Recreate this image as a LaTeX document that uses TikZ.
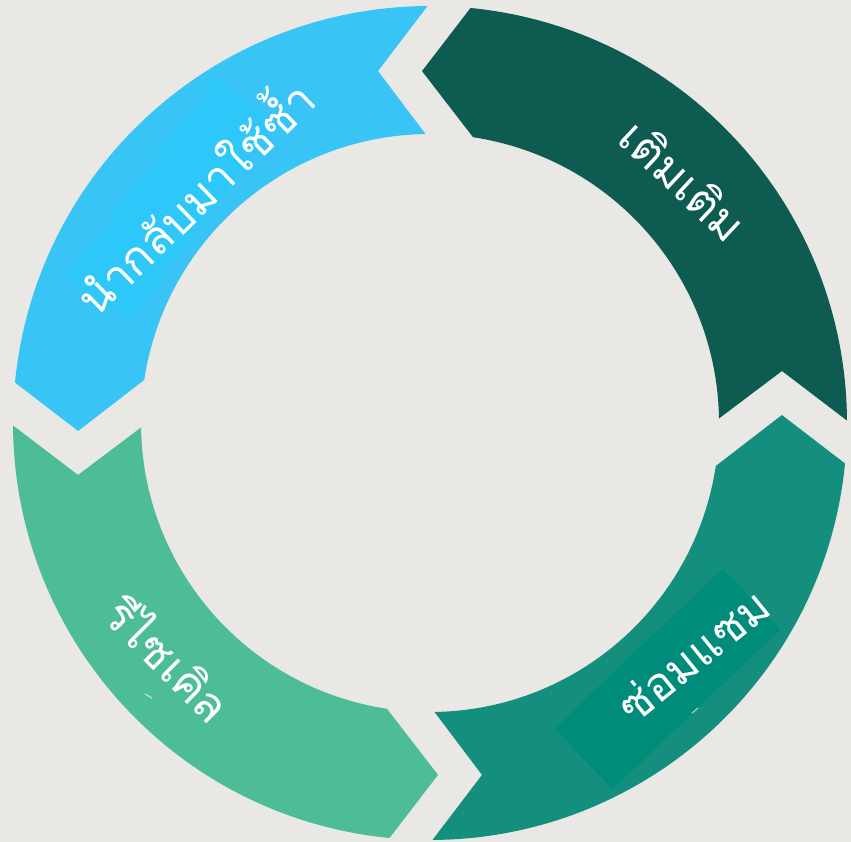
\documentclass[tikz,border=0pt]{standalone}
\usepackage{fontspec}
\newfontfamily\thaifont[Script=Thai]{Loma}
\definecolor{paper}{HTML}{EAE8E4}
\definecolor{reuseblue}{HTML}{38C4F4}
\definecolor{reusebox}{HTML}{2DC8F9}
\definecolor{refilldark}{HTML}{0D5B51}
\definecolor{repairteal}{HTML}{148F7E}
\definecolor{repairbox}{HTML}{008C7B}
\definecolor{recyclegreen}{HTML}{4DBD98}
\tikzset{
  label text/.style={text=white, font=\thaifont\fontsize{46}{52}\selectfont, inner sep=0pt},
  tick mark/.style={draw=white, opacity=.6, line width=1.2pt, line cap=round}
}
% one quarter of the ring: tail notch at #1, arrow head at #1+90
\newcommand\ringpiece[2]{%
  \fill[#2] ({#1+0.34}:417pt)
    arc[start angle={#1+0.34}, end angle={#1+84.43}, radius=417pt]
    -- ({#1+91.3}:352pt)
    -- ({#1+81.44}:289pt)
    arc[start angle={#1+81.44}, end angle={#1+0.89}, radius=289pt]
    -- ({#1+8.4}:355.8pt) -- cycle;}
\begin{document}
\begin{tikzpicture}[x=1pt,y=1pt]
  \fill[paper] (0,0) rectangle (851,842);
  \useasboundingbox (0,0) rectangle (851,842);
  \begin{scope}[shift={(430,419)}]
    \ringpiece{0}{refilldark}
    \ringpiece{90}{reuseblue}
    \ringpiece{180}{recyclegreen}
    \ringpiece{270}{repairteal}
  \end{scope}
  % text backdrops
  \node[fill=reusebox, minimum width=248pt, minimum height=76pt, rotate=53.4, inner sep=0pt] (reusebg) at (171.5,642) {};
  \node[fill=repairbox, minimum width=232pt, minimum height=84pt, rotate=43.6, inner sep=0pt] (repairbg) at (667.5,163) {};
  % labels
  \node[label text, rotate=44] (reuse) at (191,648) {นำกลับมาใช้ซ้ำ};
  \node[label text, rotate=-43] (refill) at (684,662) {เติมเติม};
  \node[label text, rotate=39] (repair) at (693,187) {ซ่อมแซม};
  \node[label text, rotate=-45] (recycle) at (170,184) {รีไซเคิล};
  % small stray marks
  \draw[tick mark] (145,148) -- (152,144);
  \draw[tick mark] (692,129) -- (698,134);
\end{tikzpicture}
\end{document}
